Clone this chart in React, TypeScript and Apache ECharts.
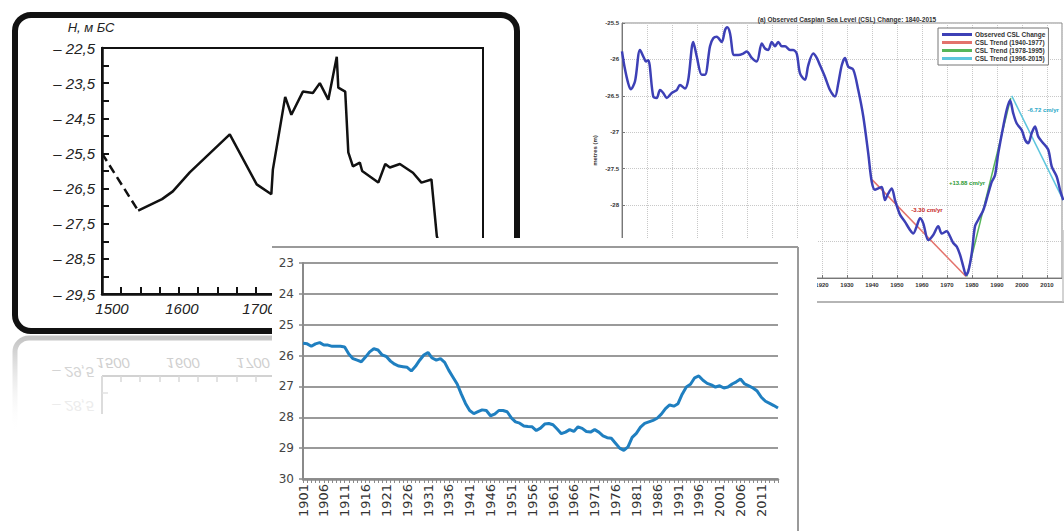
import React, { useEffect, useRef } from 'react';
import * as echarts from 'echarts';

// ---------- Top-left: hand-drawn historical level (m BS) ----------
const handYears = [1500, 1547, 1578, 1592, 1614, 1666, 1701, 1720, 1722, 1738, 1746, 1761, 1774, 1783, 1794, 1805, 1807, 1816, 1820, 1826, 1835, 1838, 1859, 1868, 1874, 1887, 1904, 1915, 1928, 1930, 1935, 1940];
const handLevels = [-25.5, -27.13, -26.8, -26.58, -26.04, -24.96, -26.38, -26.66, -25.96, -23.89, -24.4, -23.74, -23.78, -23.5, -23.97, -22.75, -23.63, -23.74, -25.47, -25.87, -25.76, -26.0, -26.33, -25.8, -25.9, -25.8, -26.05, -26.33, -26.24, -26.7, -27.85, -28.2];
const handXLabels = [1500, 1600, 1700];
const handYName = 'H, м БС';

// ---------- Top-right: observed Caspian Sea Level 1840-2015 ----------
const cslTitle = '(a) Observed Caspian Sea Level (CSL) Change: 1840-2015';
const cslYears = [1840, 1841, 1842.5, 1843.5, 1845.2, 1847.2, 1848.8, 1849.6, 1850.5, 1852.5, 1853.9, 1855.2, 1856.5, 1857.9, 1859.9, 1861.9, 1863.2, 1865.2, 1866.5, 1868.5, 1869.9, 1871.9, 1873.2, 1875.2, 1876.5, 1877.9, 1879.9, 1881.2, 1882.1, 1883.2, 1884.8, 1886.5, 1888.5, 1889.9, 1891.9, 1893.9, 1895.9, 1897.2, 1898.5, 1899.9, 1901.2, 1902.5, 1903.9, 1905.2, 1907.2, 1908.5, 1909.9, 1911.2, 1913.2, 1914.5, 1916.5, 1917.9, 1919.2, 1921.2, 1923.2, 1925.2, 1926.5, 1927.9, 1929.2, 1930.5, 1932.5, 1934.5, 1936.5, 1938.5, 1939.9, 1941.2, 1942.5, 1943.9, 1945.2, 1946.5, 1947.9, 1949.2, 1951.2, 1953.2, 1955.2, 1956.5, 1957.9, 1959.2, 1960.5, 1962.5, 1964.5, 1966.5, 1967.9, 1969.9, 1971.2, 1972.5, 1973.9, 1975.2, 1976.5, 1977.6, 1978.5, 1979.9, 1981.2, 1982.5, 1984.5, 1986.5, 1987.9, 1989.2, 1990.5, 1992.5, 1993.9, 1995.2, 1996.5, 1997.9, 1999.9, 2001.2, 2002.5, 2003.9, 2005.2, 2006.5, 2008.5, 2010.5, 2011.9, 2013.9, 2015.2, 2016.5];
const cslLevels = [-25.89, -26.1, -26.33, -26.41, -26.3, -25.87, -25.98, -26.03, -26.01, -26.51, -26.53, -26.42, -26.46, -26.53, -26.46, -26.42, -26.35, -26.4, -26.28, -25.76, -25.96, -26.21, -26.21, -25.82, -25.71, -25.69, -25.76, -25.6, -25.56, -25.64, -25.94, -25.94, -25.92, -25.89, -25.98, -26.03, -25.78, -25.85, -25.87, -25.76, -25.82, -25.76, -25.82, -25.82, -25.87, -25.87, -25.92, -26.19, -26.28, -26.08, -25.92, -25.98, -26.08, -26.24, -26.42, -26.51, -26.33, -26.08, -25.98, -26.1, -26.14, -26.42, -26.78, -27.29, -27.68, -27.79, -27.77, -27.75, -27.93, -27.84, -27.77, -27.93, -28.13, -28.23, -28.34, -28.39, -28.29, -28.18, -28.25, -28.48, -28.41, -28.29, -28.39, -28.36, -28.43, -28.52, -28.57, -28.68, -28.84, -28.96, -28.91, -28.66, -28.29, -28.2, -28.07, -27.84, -27.68, -27.59, -27.29, -26.92, -26.69, -26.56, -26.74, -26.88, -26.97, -27.1, -27.15, -27.01, -26.92, -27.06, -27.15, -27.24, -27.47, -27.61, -27.79, -27.93];
const trendNames = ['CSL Trend (1940-1977)', 'CSL Trend (1978-1995)', 'CSL Trend (1996-2015)'];
const trendYears = [[1940, 1977.6], [1977.9, 1995.5], [1995.9, 2016.5]];
const trendLevels = [[-27.65, -28.98], [-28.98, -26.53], [-26.5, -27.93]];
const trendRates = ['-3.30 cm/yr', '+13.88 cm/yr', '-6.72 cm/yr'];
const trendLabelYears = [1962, 1978, 2008.5];
const trendLabelLevels = [-28.07, -27.7, -26.69];
const trendColors = ['#e3726c', '#56b65a', '#5ec6dd'];

// ---------- Front: level 1901-2015 (below 0, m) ----------
const frontYears = Array.from({ length: 115 }, (_, i) => String(1901 + i));
const frontLevels = [25.6, 25.62, 25.7, 25.62, 25.58, 25.66, 25.66, 25.7, 25.7, 25.7, 25.72, 25.95, 26.1, 26.15, 26.2, 26.05, 25.88, 25.78, 25.82, 25.98, 26.03, 26.18, 26.28, 26.34, 26.36, 26.38, 26.5, 26.35, 26.15, 25.98, 25.9, 26.08, 26.15, 26.1, 26.22, 26.48, 26.7, 26.92, 27.25, 27.55, 27.78, 27.88, 27.82, 27.76, 27.78, 27.95, 27.9, 27.78, 27.78, 27.82, 28.02, 28.15, 28.19, 28.28, 28.3, 28.31, 28.43, 28.35, 28.22, 28.2, 28.24, 28.38, 28.53, 28.48, 28.4, 28.46, 28.31, 28.36, 28.46, 28.48, 28.4, 28.48, 28.6, 28.66, 28.68, 28.84, 29.0, 29.07, 28.96, 28.65, 28.52, 28.32, 28.2, 28.15, 28.1, 28.03, 27.9, 27.72, 27.6, 27.64, 27.56, 27.25, 27.02, 26.93, 26.72, 26.66, 26.8, 26.9, 26.95, 27.02, 26.98, 27.05, 27.02, 26.92, 26.85, 26.76, 26.92, 26.98, 27.05, 27.15, 27.35, 27.48, 27.55, 27.62, 27.7];

const zip = (xs: number[], ys: number[]) => xs.map((x, i) => [x, ys[i]]);

export default function App() {
  const ref = useRef<HTMLDivElement>(null);
  useEffect(() => {
    document.body.style.margin = '0';
    const chart = echarts.init(ref.current!, null, { renderer: 'svg' });
    const handFont = 'Liberation Sans';
    const handLine = zip(handYears, handLevels);
    const reflLabel = { fill: '#cfcfcf', font: 'italic 15px "Liberation Sans"', textAlign: 'center', textVerticalAlign: 'middle' };
    const reflTicks = [121, 140, 160, 179, 198, 217, 237, 256].map((x) => ({
      type: 'line', z: 1, shape: { x1: x, y1: 376, x2: x, y2: 382 }, style: { stroke: '#d8d8d8', lineWidth: 1.5 },
    }));

    chart.setOption({
      animation: false,
      backgroundColor: '#fff',
      title: {
        text: cslTitle, left: 842, top: 11, textAlign: 'center',
        textStyle: { fontSize: 6.5, fontWeight: 'bold', color: '#333', fontFamily: 'Liberation Sans' },
      },
      legend: {
        data: ['Observed CSL Change', ...trendNames],
        orient: 'vertical', left: 938, top: 28, itemWidth: 30, itemHeight: 3, itemGap: 1,
        icon: 'rect', padding: [3, 3, 3, 4], borderColor: '#777', borderWidth: 1, backgroundColor: '#fff',
        textStyle: { fontSize: 6.5, fontWeight: 'bold', color: '#333', fontFamily: 'Liberation Sans', padding: [0, 0, 0, -2] },
      },
      grid: [
        { left: 102, top: 48, width: 381, height: 246, show: true, borderColor: '#111', borderWidth: 2, backgroundColor: 'transparent' },
        { left: 622, top: 23, width: 440, height: 255, show: true, borderColor: '#888', borderWidth: 1, backgroundColor: 'transparent' },
        { left: 303, top: 263, width: 475, height: 216 },
      ],
      xAxis: [
        {
          gridIndex: 0, type: 'value', min: 1500, max: 1995, interval: 25, z: 0,
          axisLine: { lineStyle: { color: '#111', width: 2.5 } },
          axisTick: { inside: true, length: 7, lineStyle: { color: '#111', width: 2 } },
          splitLine: { show: false },
          axisLabel: {
            margin: 7,
            formatter: (v: number) => (handXLabels.includes(v) ? (v === 1500 ? `{f|${v}}` : `{n|${v}}`) : ''),
            rich: {
              f: { fontSize: 15, fontStyle: 'italic', color: '#222', fontFamily: handFont, padding: [0, 0, 0, 20] },
              n: { fontSize: 15, fontStyle: 'italic', color: '#222', fontFamily: handFont, padding: [0, 0, 0, 6] },
            },
          },
        },
        {
          gridIndex: 1, type: 'value', min: 1840, max: 2016, interval: 10, z: 0,
          axisLine: { lineStyle: { color: '#777', width: 1 } },
          axisTick: { inside: true, length: 3, lineStyle: { color: '#777' } },
          splitLine: { show: true, lineStyle: { color: '#c8c8c8', type: 'dotted', width: 1 } },
          axisLabel: {
            margin: 4, fontSize: 6, fontWeight: 'bold', color: '#333', fontFamily: 'Liberation Sans', showMaxLabel: false,
            formatter: (v: number) => (v % 10 === 0 ? String(v) : ''),
          },
        },
        {
          gridIndex: 2, type: 'category', data: frontYears, boundaryGap: false, z: 60,
          axisLine: { lineStyle: { color: '#8a8a8a', width: 2.5 } },
          axisTick: { show: true, interval: 0, length: 4, lineStyle: { color: '#8a8a8a', width: 1 } },
          axisLabel: { interval: 4, rotate: 90, margin: 5, fontSize: 13, color: '#333', fontFamily: 'DejaVu Sans' },
          splitLine: { show: false },
        },
      ],
      yAxis: [
        {
          gridIndex: 0, type: 'value', min: -29.5, max: -22.5, interval: 0.5, z: 0,
          name: handYName, nameLocation: 'end', nameGap: 14,
          nameTextStyle: { fontSize: 13, fontStyle: 'italic', color: '#222', fontFamily: handFont, padding: [0, 22, 0, 0] },
          axisLine: { show: true, lineStyle: { color: '#111', width: 2.5 } },
          axisTick: { show: true, inside: true, length: 7, lineStyle: { color: '#111', width: 2 } },
          splitLine: { show: false },
          axisLabel: {
            margin: 7, fontSize: 15, fontStyle: 'italic', color: '#222', fontFamily: handFont,
            formatter: (v: number) => (Math.round(Math.abs(v) * 2) % 2 === 1 ? '– ' + Math.abs(v).toFixed(1).replace('.', ',') : ''),
          },
        },
        {
          gridIndex: 1, type: 'value', min: -29, max: -25.5, interval: 0.5, z: 0,
          name: 'metres (m)', nameLocation: 'middle', nameGap: 24,
          nameTextStyle: { fontSize: 6, fontWeight: 'bold', color: '#333', fontFamily: 'Liberation Sans' },
          axisLine: { show: true, lineStyle: { color: '#777', width: 1 } },
          axisTick: { show: true, inside: true, length: 3, lineStyle: { color: '#777' } },
          splitLine: { show: true, lineStyle: { color: '#c8c8c8', type: 'dotted', width: 1 } },
          axisLabel: { margin: 3, fontSize: 6, fontWeight: 'bold', color: '#333', fontFamily: 'Liberation Sans' },
        },
        {
          gridIndex: 2, type: 'value', inverse: true, min: 23, max: 30, interval: 1, z: 60,
          axisLine: { show: true, lineStyle: { color: '#8a8a8a', width: 2 } },
          axisTick: { show: true, length: 4, lineStyle: { color: '#8a8a8a', width: 1.5 } },
          splitLine: { show: true, lineStyle: { color: '#9a9a9a', width: 2 } },
          axisLabel: { margin: 9, fontSize: 12, color: '#444', fontFamily: 'DejaVu Sans' },
        },
      ],
      graphic: [
        // top-left card frame
        { type: 'rect', z: 1, shape: { x: 15, y: 15, width: 502, height: 316, r: 16 }, style: { fill: 'none', stroke: '#111', lineWidth: 6 } },
        // reflection of the card
        {
          type: 'rect', z: 1, shape: { x: 15, y: 338, width: 300, height: 95, r: [14, 14, 0, 0] },
          style: {
            fill: 'none', lineWidth: 5,
            stroke: { type: 'linear', x: 0, y: 0, x2: 0, y2: 1, colorStops: [{ offset: 0, color: '#c4c4c4' }, { offset: 1, color: 'rgba(255,255,255,0)' }] },
          },
        },
        { type: 'text', z: 1, x: 113, y: 363, scaleY: -1, style: { ...reflLabel, text: '1500' } },
        { type: 'text', z: 1, x: 183, y: 363, scaleY: -1, style: { ...reflLabel, text: '1600' } },
        { type: 'text', z: 1, x: 253, y: 363, scaleY: -1, style: { ...reflLabel, text: '1700' } },
        { type: 'text', z: 1, x: 73, y: 372, scaleY: -1, style: { ...reflLabel, text: '– 29,5', fill: '#d4d4d4' } },
        { type: 'text', z: 1, x: 73, y: 406, scaleY: -1, style: { ...reflLabel, text: '– 28,5', fill: '#ececec' } },
        { type: 'line', z: 1, shape: { x1: 102, y1: 376, x2: 272, y2: 376 }, style: { stroke: '#d2d2d2', lineWidth: 2 } },
        { type: 'line', z: 1, shape: { x1: 102, y1: 376, x2: 102, y2: 414 }, style: { stroke: '#dcdcdc', lineWidth: 2 } },
        { type: 'line', z: 1, shape: { x1: 102, y1: 393, x2: 108, y2: 393 }, style: { stroke: '#e2e2e2', lineWidth: 1.5 } },
        ...reflTicks,
        // top-right card edges
        { type: 'line', z: 1, shape: { x1: 817, y1: 302, x2: 1064, y2: 302 }, style: { stroke: '#b5b5b5', lineWidth: 2 } },
        { type: 'line', z: 1, shape: { x1: 1063, y1: 230, x2: 1063, y2: 302 }, style: { stroke: '#c5c5c5', lineWidth: 1.5 } },
        // front card: white sheet covering what lies below
        { type: 'rect', z: 50, shape: { x: 272, y: 238, width: 545, height: 300 }, style: { fill: '#fff' } },
        { type: 'line', z: 51, shape: { x1: 272, y1: 247, x2: 798, y2: 247 }, style: { stroke: '#9a9a9a', lineWidth: 2 } },
        { type: 'line', z: 51, shape: { x1: 798, y1: 247, x2: 798, y2: 531 }, style: { stroke: '#9a9a9a', lineWidth: 2 } },
      ],
      series: [
        {
          name: 'hand-dashed', type: 'line', xAxisIndex: 0, yAxisIndex: 0, z: 2, symbol: 'none',
          data: handLine.slice(0, 2), lineStyle: { color: '#111', width: 2.5, type: [9, 5] },
        },
        {
          name: 'hand-solid', type: 'line', xAxisIndex: 0, yAxisIndex: 0, z: 2, symbol: 'none',
          data: handLine.slice(1), lineStyle: { color: '#111', width: 2.5 },
        },
        {
          name: 'Observed CSL Change', type: 'line', xAxisIndex: 1, yAxisIndex: 1, z: 3, symbol: 'none', smooth: 0.3,
          data: zip(cslYears, cslLevels), itemStyle: { color: '#3d40b6' }, lineStyle: { color: '#3d40b6', width: 2.5 },
        },
        ...trendNames.map((n, i) => ({
          name: n, type: 'line', xAxisIndex: 1, yAxisIndex: 1, z: 2, symbol: 'none',
          data: zip(trendYears[i], trendLevels[i]),
          itemStyle: { color: trendColors[i] }, lineStyle: { color: trendColors[i], width: 1.5 },
          markPoint: {
            symbol: 'circle', symbolSize: 0,
            label: { show: true, formatter: trendRates[i], color: i === 0 ? '#c62828' : i === 1 ? '#2e9a34' : '#29a8c7', fontSize: 6, fontWeight: 'bold', fontFamily: 'Liberation Sans' },
            data: [{ coord: [trendLabelYears[i], trendLabelLevels[i]] }],
          },
        })),
        {
          name: 'front', type: 'line', xAxisIndex: 2, yAxisIndex: 2, z: 70, symbol: 'none',
          data: frontLevels, lineStyle: { color: '#1f7fc0', width: 3 },
        },
      ],
    });
    return () => chart.dispose();
  }, []);
  return <div ref={ref} style={{ width: 1064, height: 531 }} />;
}
